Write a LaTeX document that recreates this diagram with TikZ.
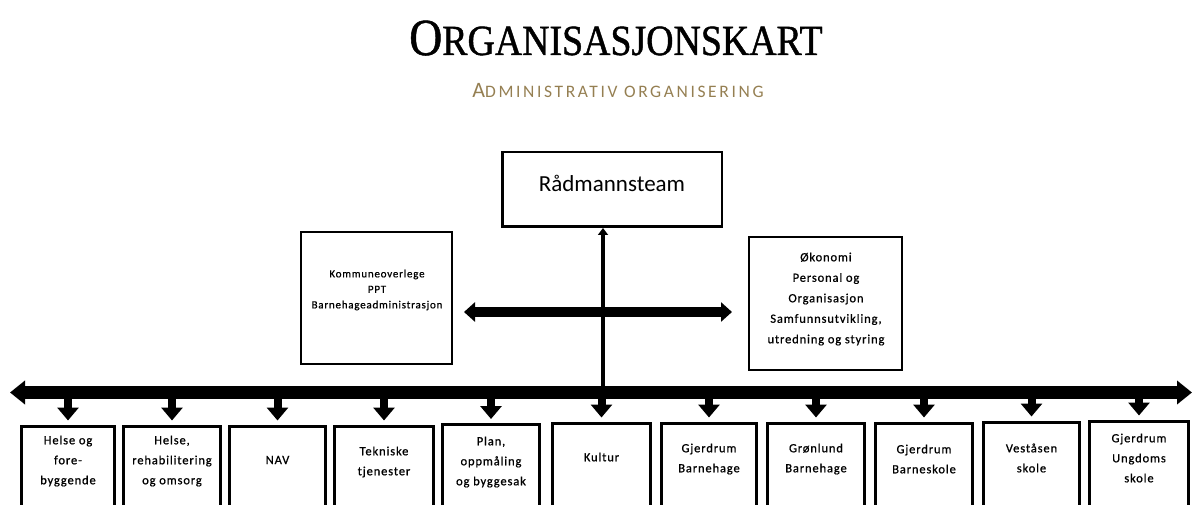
\documentclass[tikz,border=0pt]{standalone}
\usepackage{fontspec}
\usepackage{xcolor}
\usetikzlibrary{arrows.meta}

\setmainfont{Carlito}
\newfontfamily\titlefont[FakeStretch=0.88, FakeBold=1]{Liberation Serif}
\newfontfamily\subfont[LetterSpace=15]{Carlito}
\newfontfamily\boxfont[LetterSpace=7, FakeBold=0.8]{Carlito}
\definecolor{subtan}{HTML}{957F52}

\tikzset{
  unit/.style={draw=black, line width=3pt, anchor=north, minimum height=110pt, inner sep=0pt},
  unittext/.style={align=center, inner sep=0pt, font=\boxfont\fontsize{12.5}{20}\selectfont},
  staff/.style={draw=black, line width=2pt, inner sep=0pt},
  bus/.style={line width=12.5pt, {Triangle[width=23pt,length=15pt]}-{Triangle[width=23pt,length=15pt]}},
  link/.style={line width=10pt, {Triangle[width=19pt,length=11pt]}-{Triangle[width=19pt,length=11pt]}},
  drop/.style={line width=8pt, -{Triangle[width=21pt,length=13pt]}, shorten >=4pt},
  rise/.style={line width=4.5pt, -{Triangle[width=10pt,length=7pt]}},
}

\begin{document}
\begin{tikzpicture}[x=1pt, y=-1pt]
	\useasboundingbox (0,0) rectangle (1192,505);
	\clip (0,0) rectangle (1192,505);
	% heading
	\node[anchor=base, inner sep=0pt] (title) at (616,55) {\titlefont{\fontsize{52}{52}\selectfont O}\fontsize{43}{43}\selectfont RGANISASJONSKART};
	\node[anchor=base, inner sep=0pt, text=subtan] (subtitle) at (618,98) {\subfont{\fontsize{22}{22}\selectfont A}\fontsize{17.5}{17.5}\selectfont DMINISTRATIV ORGANISERING};
	% top level and staff
	\node[staff, line width=2.5pt, minimum width=219.5pt, minimum height=74.5pt] (rad) at (612,189.5) {};
	\node[inner sep=0pt, font=\fontsize{23}{23}\selectfont] (rad-txt) at (612,183) {Rådmannsteam};
	\node[staff, minimum width=151pt, minimum height=132pt] (kom) at (376.5,298) {};
	\node[align=center, inner sep=0pt, font=\boxfont\fontsize{11}{15.5}\selectfont] (kom-txt) at (377,290) {Kommuneoverlege\\PPT\\Barnehageadministrasjon};
	\node[staff, minimum width=153pt, minimum height=133pt] (oko) at (825.5,303.5) {};
	\node[unittext, font=\boxfont\fontsize{12.5}{20.5}\selectfont] (oko-txt) at (826,299) {Økonomi\\Personal og\\Organisasjon\\Samfunnsutvikling,\\utredning og styring};
	% units
	\node[unit, minimum width=93pt] (helse) at (68,424.5) {};
	\node[unit, minimum width=97pt] (rehab) at (172,424.5) {};
	\node[unit, minimum width=96pt] (nav) at (277.5,424.5) {};
	\node[unit, minimum width=99pt] (teknisk) at (384,424.5) {};
	\node[unit, minimum width=97pt] (plan) at (491,423) {};
	\node[unit, minimum width=98pt] (kultur) at (601.5,421.5) {};
	\node[unit, minimum width=95pt] (gjbhage) at (709,421.5) {};
	\node[unit, minimum width=97pt] (gronlund) at (816,421.5) {};
	\node[unit, minimum width=97pt] (gjbskole) at (924,421.5) {};
	\node[unit, minimum width=96pt] (vestasen) at (1031.5,420.5) {};
	\node[unit, minimum width=99pt] (ungdom) at (1139,419.5) {};
	\node[unittext] (helse-txt) at (68,461) {Helse og\\fore-\\byggende};
	\node[unittext] (rehab-txt) at (172,461) {Helse,\\rehabilitering\\og omsorg};
	\node[unittext] (nav-txt) at (277.5,460) {NAV};
	\node[unittext] (teknisk-txt) at (384,462) {Tekniske\\tjenester};
	\node[unittext] (plan-txt) at (491,462) {Plan,\\oppmåling\\og byggesak};
	\node[unittext] (kultur-txt) at (601.5,457) {Kultur};
	\node[unittext] (gjbhage-txt) at (709,459) {Gjerdrum\\Barnehage};
	\node[unittext] (gronlund-txt) at (816,459) {Grønlund\\Barnehage};
	\node[unittext] (gjbskole-txt) at (924,459) {Gjerdrum\\Barneskole};
	\node[unittext] (vestasen-txt) at (1031.5,458) {Veståsen\\skole};
	\node[unittext] (ungdom-txt) at (1139,458) {Gjerdrum\\Ungdoms\\skole};
	% connectors
	\coordinate (hub) at (603,312);
	\coordinate (bar-w) at (10,392.5);
	\coordinate (bar-e) at (1192,392.5);
	\draw[rise] (hub |- bar-w) -- (hub |- rad.south);
	\draw[link, shorten <=11pt, shorten >=16pt] (kom.east |- hub) -- (oko.west |- hub);
	\draw[bus] (bar-w) -- (bar-e);
	\draw[drop] (helse.north |- bar-w) -- (helse.north);
	\draw[drop] (rehab.north |- bar-w) -- (rehab.north);
	\draw[drop] (nav.north |- bar-w) -- (nav.north);
	\draw[drop] (teknisk.north |- bar-w) -- (teknisk.north);
	\draw[drop] (plan.north |- bar-w) -- (plan.north);
	\draw[drop] (kultur.north |- bar-w) -- (kultur.north);
	\draw[drop] (gjbhage.north |- bar-w) -- (gjbhage.north);
	\draw[drop] (gronlund.north |- bar-w) -- (gronlund.north);
	\draw[drop] (gjbskole.north |- bar-w) -- (gjbskole.north);
	\draw[drop] (vestasen.north |- bar-w) -- (vestasen.north);
	\draw[drop] (ungdom.north |- bar-w) -- (ungdom.north);
\end{tikzpicture}
\end{document}
